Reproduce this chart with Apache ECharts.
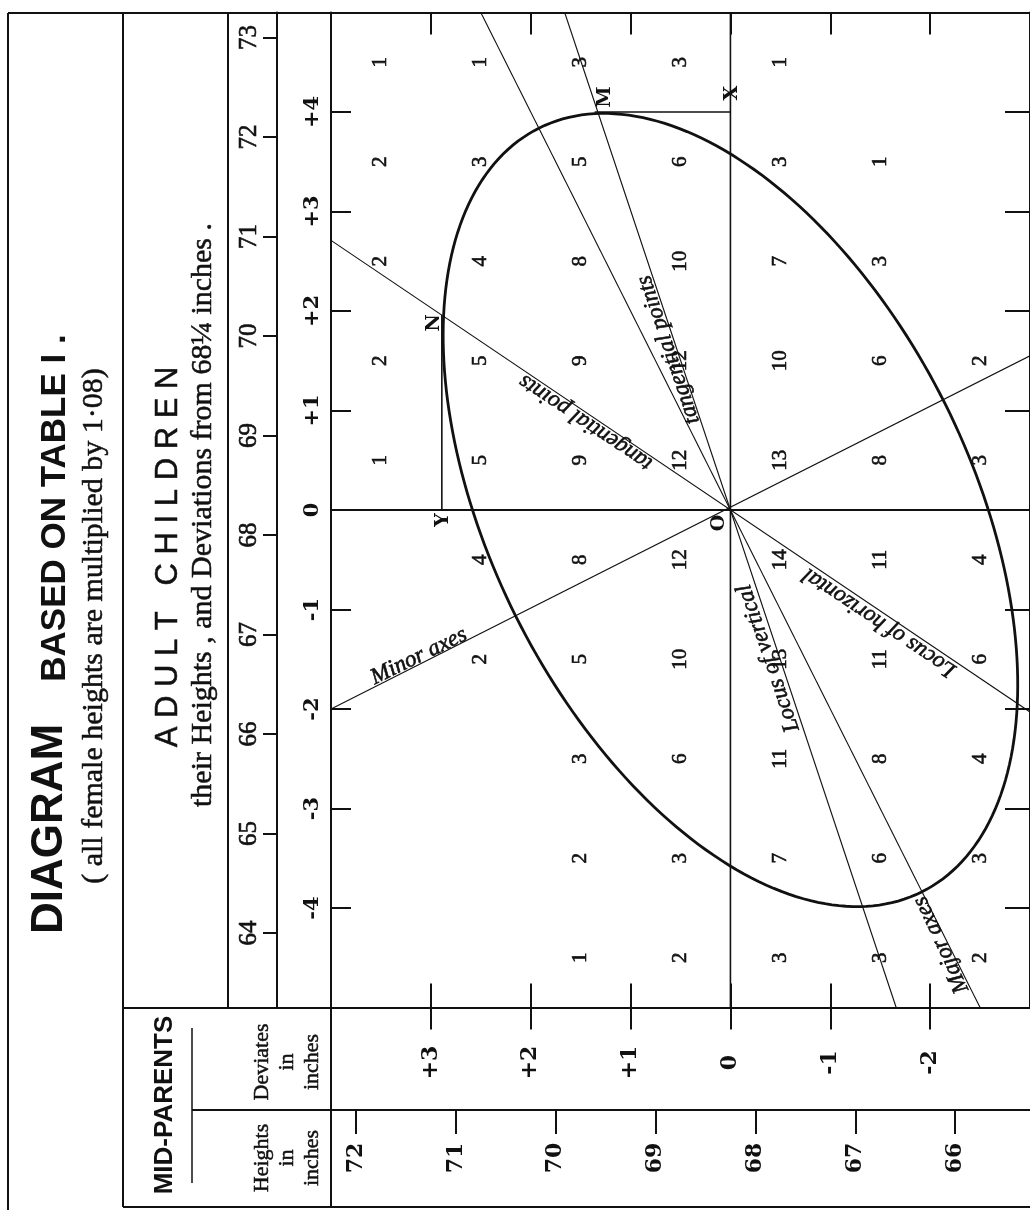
<!DOCTYPE html>
<html>
<head>
<meta charset="utf-8">
<style>
  html, body { margin: 0; padding: 0; background: #fff; }
  #chart { width: 1030px; height: 1210px; }
</style>
<script src="https://cdn.jsdelivr.net/npm/echarts@6/dist/echarts.min.js"></script>
</head>
<body>
<div id="chart"></div>
<script>
// Galton's diagram based on Table I, printed with the page turned a quarter:
// mid-parents run across (left = taller), adult children run up.
var chart = echarts.init(document.getElementById('chart'));

var INK = '#111';
var MEAN = 68.25; // deviations are taken from 68 1/4 inches

// tick labels
var parentDevTicks = [-2, -1, 0, 1, 2, 3];
var childDevTicks = [-4, -3, -2, -1, 0, 1, 2, 3, 4];
var parentHeightTicks = [66, 67, 68, 69, 70, 71, 72];
var childHeightTicks = [64, 65, 66, 67, 68, 69, 70, 71, 72, 73];

// cell centres (deviations in inches)
var cols = [3.5, 2.5, 1.5, 0.5, -0.5, -1.5, -2.5];           // mid-parents
var rows = [4.5, 3.5, 2.5, 1.5, 0.5, -0.5, -1.5, -2.5, -3.5, -4.5]; // children
// counts in each cell, one row per child row, in the order of cols
var counts = [
  [1, 1, 3, 3, 1, null, null],
  [2, 3, 5, 6, 3, 1, null],
  [2, 4, 8, 10, 7, 3, null],
  [2, 5, 9, 12, 10, 6, 2],
  [1, 5, 9, 12, 13, 8, 3],
  [null, 4, 8, 12, 14, 11, 4],
  [null, 2, 5, 10, 13, 11, 6],
  [null, null, 3, 6, 11, 8, 4],
  [null, null, 2, 3, 7, 6, 3],
  [null, null, 1, 2, 3, 3, 2]
];

// the ellipse about O: semi-axes and slope of the major axis (degrees)
var ellipseMajor = 4.29;
var ellipseMinor = 2.40;
var ellipseAngle = 63.5;

// straight lines, [mid-parent dev, child dev] ends
var crossH = [[4, 0], [-3, 0]];
var crossV = [[0, 5], [0, -5]];
var majorAxis = [[2.5, 5], [-2.5, -5]];
var minorAxis = [[4, -2.0], [-3, 1.55]];
var locusVertical = [[1.66, 5], [-1.66, -5]];
var locusHorizontal = [[4, 2.71], [-3, -2.03]];
var lineMX = [[1.36, 4.0], [0, 4.0]];
var lineNY = [[2.89, 1.96], [2.89, 0]];

// lettered points
var letters = [
  { name: 'M', value: [1.26, 4.15] },
  { name: 'N', value: [2.97, 1.88] },
  { name: 'X', value: [-0.02, 4.19] },
  { name: 'Y', value: [2.88, -0.10] },
  { name: 'O', value: [0.11, -0.13] }
];

// writing along the lines
var notes = [
  { name: 'tangential points', value: [0.62, 1.61], angle: 108.7 },
  { name: 'Locus of vertical', value: [-0.38, -1.49], angle: 108.7 },
  { name: 'tangential points', value: [1.45, 0.88], angle: 146.3 },
  { name: 'Locus of horizontal', value: [-1.49, -1.13], angle: 146.3 },
  { name: 'Minor axes', value: [3.12, -1.47], angle: 26 },
  { name: 'Major axes', value: [-2.11, -4.37], angle: 115 }
];

var cellData = [];
rows.forEach(function (c, i) {
  cols.forEach(function (p, j) {
    if (counts[i][j] != null) cellData.push([p, c, counts[i][j]]);
  });
});

function signed(v) { return v > 0 ? '+' + v : String(v); }

function seg(data, width) {
  return {
    type: 'line', data: data, symbol: 'none', silent: true,
    lineStyle: { color: INK, width: width }, z: 3
  };
}

function hidden() { return { show: false }; }

// rotated heading text; a hairline stroke darkens the serif type a little
function rotText(x, y, text, font, extra) {
  var st = {
    text: text, font: font, fill: INK,
    align: 'center', verticalAlign: 'middle',
    textAlign: 'center', textVerticalAlign: 'middle'
  };
  if (extra) for (var k in extra) st[k] = extra[k];
  return { type: 'text', x: x, y: y, rotation: Math.PI / 2, style: st, silent: true };
}
var darken = { stroke: INK, lineWidth: 0.5 };

function hline(x1, x2, y, w) {
  return { type: 'line', shape: { x1: x1, y1: y, x2: x2, y2: y }, style: { stroke: INK, lineWidth: w || 2 }, silent: true };
}
function vline(x, y1, y2, w) {
  return { type: 'line', shape: { x1: x, y1: y1, x2: x, y2: y2 }, style: { stroke: INK, lineWidth: w || 2 }, silent: true };
}

function textLayer(data, label) {
  return {
    type: 'scatter', symbolSize: 0, silent: true, z: 5,
    itemStyle: { opacity: 1 },
    emphasis: { disabled: true },
    data: data,
    label: label
  };
}

var boldSerif = 'DejaVu Serif';
// thin outline so the printed figures read as dark as the original
var heavy = { textBorderColor: INK, textBorderWidth: 0.6 };

var option = {
  backgroundColor: '#fff',
  animation: false,
  grid: { left: 331, right: -8, top: 12.5, bottom: 202.5 },
  xAxis: [
    { // mid-parent deviations, bottom of the frame, ticks up
      type: 'value', position: 'bottom', inverse: true, min: -3, max: 4,
      axisLine: { show: true, onZero: false, lineStyle: { color: INK, width: 2 } },
      axisTick: { show: true, inside: true, length: 24, customValues: parentDevTicks, lineStyle: { color: INK, width: 2 } },
      axisLabel: {
        show: true, customValues: parentDevTicks, rotate: 90, margin: 55,
        align: 'center', verticalAlign: 'middle', formatter: signed,
        fontFamily: boldSerif, fontWeight: 'bold', fontSize: 22, color: INK
      },
      splitLine: hidden()
    },
    { // same scale, ticks hanging down
      type: 'value', position: 'bottom', offset: 0, inverse: true, min: -3, max: 4,
      axisLine: { show: false, onZero: false },
      axisTick: { show: true, inside: false, length: 22, customValues: parentDevTicks, lineStyle: { color: INK, width: 2 } },
      axisLabel: hidden(), splitLine: hidden()
    },
    { // top of the frame
      type: 'value', position: 'top', inverse: true, min: -3, max: 4,
      axisLine: { show: true, onZero: false, lineStyle: { color: INK, width: 2 } },
      axisTick: { show: true, inside: true, length: 22, customValues: parentDevTicks, lineStyle: { color: INK, width: 2 } },
      axisLabel: hidden(), splitLine: hidden()
    },
    { // mid-parent heights
      type: 'value', position: 'bottom', offset: 102.5, inverse: true, min: MEAN - 3, max: MEAN + 4,
      axisLine: { show: true, onZero: false, lineStyle: { color: INK, width: 2 } },
      axisTick: { show: true, inside: false, length: 24, customValues: parentHeightTicks, lineStyle: { color: INK, width: 2 } },
      axisLabel: {
        show: true, customValues: parentHeightTicks, rotate: 90, margin: 48,
        align: 'center', verticalAlign: 'middle',
        fontFamily: boldSerif, fontWeight: 'bold', fontSize: 22, color: INK
      },
      splitLine: hidden()
    }
  ],
  yAxis: [
    { // child deviations, left side of the frame
      type: 'value', position: 'left', min: -5, max: 5,
      axisLine: { show: true, onZero: false, lineStyle: { color: INK, width: 2 } },
      axisTick: { show: true, inside: true, length: 20, customValues: childDevTicks, lineStyle: { color: INK, width: 2 } },
      axisLabel: {
        show: true, customValues: childDevTicks, rotate: 90, margin: 18,
        align: 'center', verticalAlign: 'middle', formatter: signed,
        fontFamily: boldSerif, fontWeight: 'bold', fontSize: 21, color: INK
      },
      splitLine: hidden()
    },
    { // right side of the frame
      type: 'value', position: 'right', min: -5, max: 5,
      axisLine: { show: true, onZero: false, lineStyle: { color: INK, width: 2 } },
      axisTick: { show: true, inside: true, length: 25, customValues: childDevTicks, lineStyle: { color: INK, width: 2 } },
      axisLabel: hidden(), splitLine: hidden()
    },
    { // child heights
      type: 'value', position: 'left', offset: 54, min: MEAN - 5, max: MEAN + 5,
      axisLine: { show: true, onZero: false, lineStyle: { color: INK, width: 2 } },
      axisTick: { show: true, inside: false, length: 14, customValues: childHeightTicks, lineStyle: { color: INK, width: 2 } },
      axisLabel: Object.assign({
        show: true, customValues: childHeightTicks, rotate: 90, margin: 28,
        align: 'center', verticalAlign: 'middle',
        fontFamily: 'Liberation Serif', fontSize: 25, color: INK
      }, heavy),
      splitLine: hidden()
    }
  ],
  graphic: {
    elements: [
      hline(8, 331, 13),
      vline(8, 13, 1210),
      vline(123, 13, 1207),
      vline(228, 13, 1008),
      vline(331, 1007, 1207),
      hline(123, 331, 1008),
      hline(192, 331, 1110),
      vline(192, 1028, 1183, 1.5),
      hline(123, 1030, 1207),
      rotText(50, 829, 'DIAGRAM', 'bold 44px "Liberation Sans"'),
      rotText(55, 508, 'BASED ON TABLE I .', 'bold 35px "Liberation Sans"'),
      rotText(94, 626, '( all female heights are multiplied by 1·08)', '30px "Liberation Serif"', darken),
      rotText(168, 557, 'A D U L T   C H I L D R E N', '31px "Liberation Sans"', darken),
      rotText(203, 515, 'their Heights , and Deviations from 68¼ inches .', '30px "Liberation Serif"', darken),
      rotText(165, 1105, 'MID-PARENTS', 'bold 26px "Liberation Sans"'),
      rotText(287, 1062, 'Deviates\nin\ninches', '22px "Liberation Serif"', Object.assign({ lineHeight: 25 }, darken)),
      rotText(287, 1158, 'Heights\nin\ninches', '22px "Liberation Serif"', Object.assign({ lineHeight: 25 }, darken))
    ]
  },
  series: [
    seg(crossH, 2),
    seg(crossV, 1.6),
    seg(majorAxis, 1.1),
    seg(minorAxis, 1.1),
    seg(locusVertical, 1.1),
    seg(locusHorizontal, 1.1),
    seg(lineMX, 1.6),
    seg(lineNY, 1.6),
    {
      type: 'custom',
      coordinateSystem: 'cartesian2d',
      data: [[0, 0]],
      silent: true,
      z: 4,
      renderItem: function (params, api) {
        var t = ellipseAngle * Math.PI / 180;
        var pts = [];
        for (var k = 0; k < 240; k++) {
          var th = k / 240 * 2 * Math.PI;
          var u = ellipseMajor * Math.cos(th), v = ellipseMinor * Math.sin(th);
          pts.push(api.coord([u * Math.cos(t) - v * Math.sin(t), u * Math.sin(t) + v * Math.cos(t)]));
        }
        return {
          type: 'polygon',
          shape: { points: pts },
          style: { fill: null, stroke: INK, lineWidth: 2.8 }
        };
      }
    },
    textLayer(cellData, Object.assign({
      show: true, position: 'inside', rotate: 90,
      formatter: function (p) { return p.value[2]; },
      fontFamily: 'Liberation Serif', fontSize: 21, color: INK
    }, heavy)),
    textLayer(letters, {
      show: true, position: 'inside', rotate: 90,
      formatter: '{b}',
      fontFamily: boldSerif, fontWeight: 'bold', fontSize: 19, color: INK
    }),
    textLayer(notes.map(function (n) {
      return { name: n.name, value: n.value, label: { rotate: n.angle } };
    }), Object.assign({
      show: true, position: 'inside',
      formatter: '{b}',
      fontFamily: 'Liberation Serif', fontStyle: 'italic', fontSize: 23, color: INK
    }, heavy))
  ]
};

chart.setOption(option);
</script>
</body>
</html>
